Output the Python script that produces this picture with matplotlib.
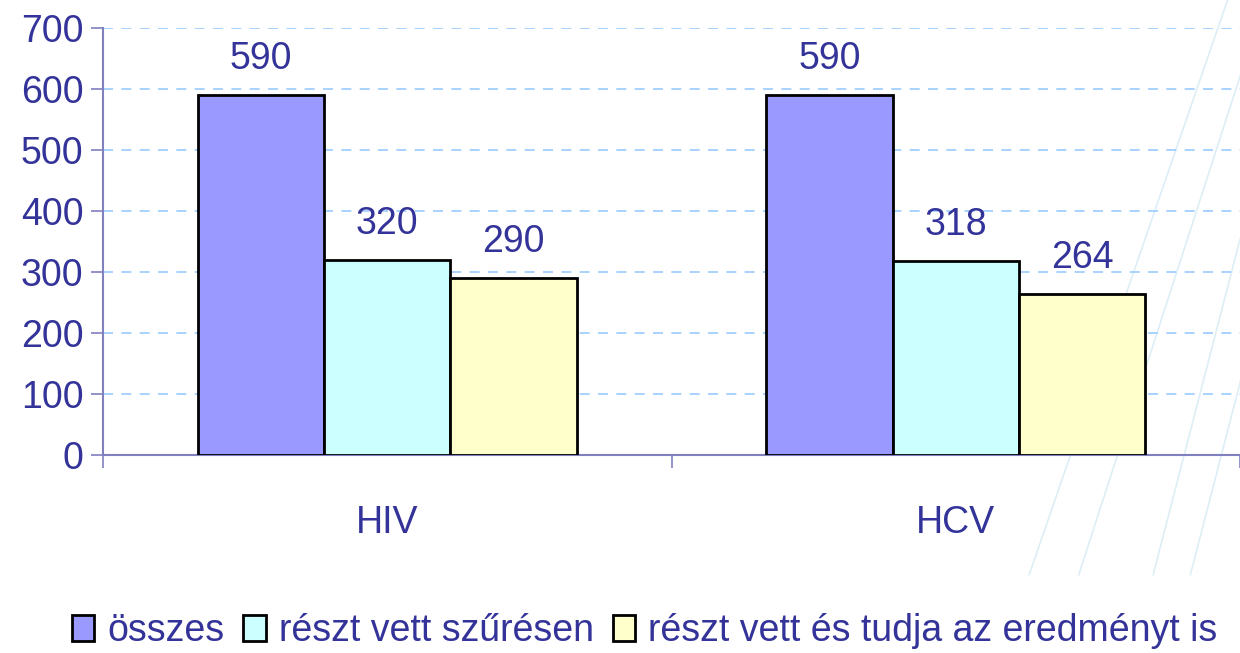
import matplotlib
matplotlib.use('Agg')
import matplotlib.pyplot as plt
import numpy as np

CATEGORIES = ['HIV', 'HCV']
SERIES = ['összes', 'részt vett szűrésen', 'részt vett és tudja az eredményt is']
VALUES = [
    [590, 590],
    [320, 318],
    [290, 264],
]
COLORS = ['#9999ff', '#ccffff', '#ffffcc']
TEXT_COLOR = '#333399'
AXIS_COLOR = '#8080c0'

plt.rcParams['font.family'] = ['Liberation Sans Narrow', 'Liberation Sans', 'DejaVu Sans']

fig = plt.figure(figsize=(12.4, 6.53), dpi=100)
ax = fig.add_axes([103 / 1240, 1 - 455 / 653, 1 - 103 / 1240, (455 - 28) / 653])

# faint decorative background strokes on the right
for x0, x1 in [(0.83, 0.99), (0.87, 1.02), (0.93, 1.05), (0.96, 1.08)]:
    fig.add_artist(plt.Line2D([x0, x1], [0.12, 1.0], color='#deeef6', lw=1.2,
                              transform=fig.transFigure, zorder=-5))

x = np.arange(len(CATEGORIES))
width = 0.222
offsets = (np.arange(len(SERIES)) - 1) * width
for i, name in enumerate(SERIES):
    bars = ax.bar(x + offsets[i], VALUES[i], width, color=COLORS[i],
                  edgecolor='black', linewidth=2, label=name, zorder=3)
    for b, v in zip(bars, VALUES[i]):
        ax.annotate(str(v), (b.get_x() + b.get_width() / 2, v),
                    xytext=(0, 13), textcoords='offset points',
                    ha='center', va='bottom', fontsize=27, color=TEXT_COLOR)

ax.set_ylim(0, 700)
ax.set_xlim(-0.5, -0.5 + 1137 / 578)
ax.set_yticks(range(0, 701, 100))
ax.yaxis.grid(True, linestyle=(0, (6, 5)), color='#99ccff', linewidth=1.2, zorder=0)
ax.set_axisbelow(True)

ax.set_xticks(x)
ax.set_xticklabels(CATEGORIES)
ax.set_xticks([-0.5, 0.5, 1.5], minor=True)
ax.tick_params(axis='x', which='major', length=0, pad=36, labelsize=27, labelcolor=TEXT_COLOR)
ax.tick_params(axis='x', which='minor', length=9, width=1.2, color=AXIS_COLOR, direction='out')
ax.tick_params(axis='y', length=9, width=1.2, color=AXIS_COLOR, pad=5, labelsize=27,
               labelcolor=TEXT_COLOR)

for s in ['top', 'right']:
    ax.spines[s].set_visible(False)
for s in ['left', 'bottom']:
    ax.spines[s].set_color(AXIS_COLOR)
    ax.spines[s].set_linewidth(1.5)
ax.patch.set_alpha(0)

leg = fig.legend(loc='center', bbox_to_anchor=(0.52, 0.033), ncol=3, frameon=False,
                 fontsize=27, handlelength=0.6, handleheight=0.7, handletextpad=0.35,
                 columnspacing=0.5, labelcolor=TEXT_COLOR)

fig.savefig('out.png', dpi=100)
